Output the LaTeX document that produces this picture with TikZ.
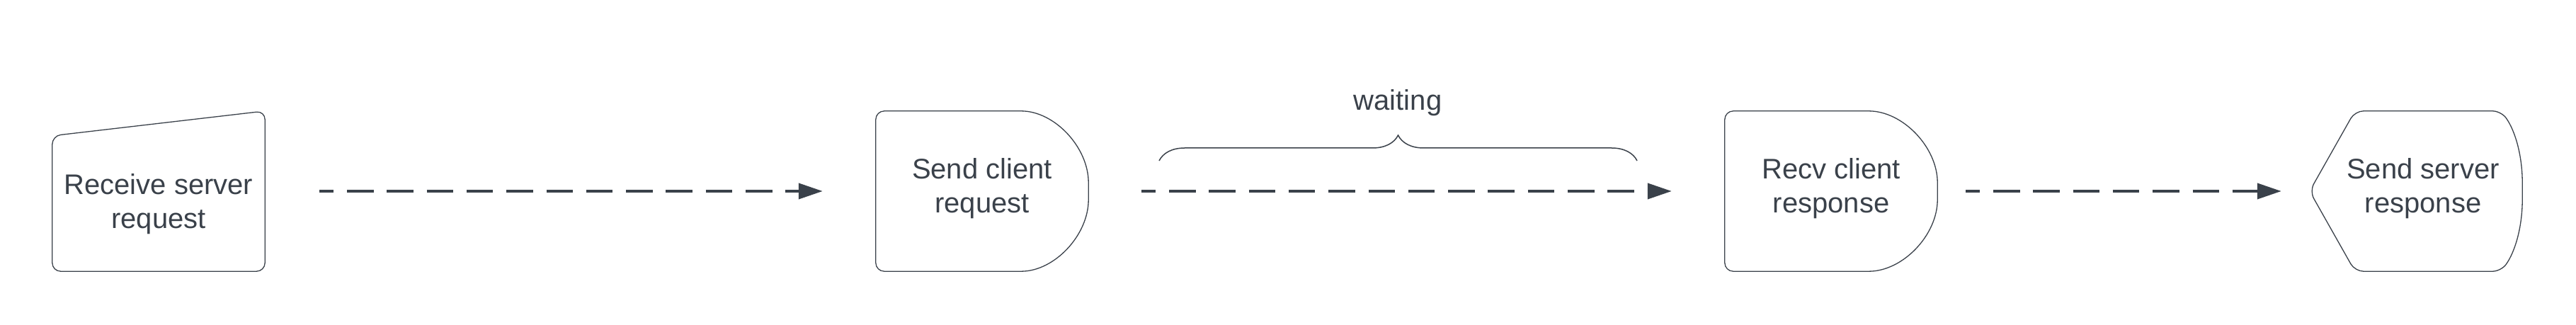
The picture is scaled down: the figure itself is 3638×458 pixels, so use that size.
\documentclass[tikz,border=0pt]{standalone}
\usepackage{fontspec}
\setmainfont{Liberation Sans}
\usetikzlibrary{arrows.meta,
                decorations.pathreplacing}
\definecolor{ink}{HTML}{3A414A}
\tikzstyle{label3}=[text=ink,align=center,inner sep=0pt,font=\fontsize{40pt}{48pt}\selectfont]

\begin{document}
\begin{tikzpicture}[x=1pt,y=1pt]

\tikzstyle{frame}=[minimum width=300pt, minimum height=226pt, inner sep=0pt]
\tikzstyle{outline}=[draw=ink, line width=1.3pt, rounded corners=12pt]
\tikzstyle{arrow}=[draw=ink, line width=4pt, dash pattern=on 37.5pt off 18.8pt, dash phase=17.5pt, -{Triangle[length=34pt,width=22pt]}]
\tikzstyle{bracket}=[draw=ink, line width=1.5pt, decorate, decoration={brace,amplitude=36pt}]

\useasboundingbox (0,0) rectangle (3638,458);

\node (recv) [frame] at (224,188)  {};
\node (sndc) [frame] at (1387,188) {};
\node (rcvc) [frame] at (2586,188) {};
\node (snds) [frame] at (3412,188) {};

\draw[outline] (recv.south west) -- ([yshift=-35pt]recv.north west) -- (recv.north east)
               -- (recv.south east) -- cycle;
\draw[outline] (sndc.north west) -- (sndc.south west)
               -- ([xshift=-107pt]sndc.south east) .. controls +(59pt,0) and +(0,-62pt) .. (sndc.east)
               .. controls +(0,62pt) and +(59pt,0) .. ([xshift=-107pt]sndc.north east) -- cycle;
\draw[outline] (rcvc.north west) -- (rcvc.south west)
               -- ([xshift=-109pt]rcvc.south east) .. controls +(60pt,0) and +(0,-62pt) .. (rcvc.east)
               .. controls +(0,62pt) and +(60pt,0) .. ([xshift=-109pt]rcvc.north east) -- cycle;
\draw[outline] ([xshift=64pt]snds.north west) -- (snds.west) -- ([xshift=64pt]snds.south west)
               -- ([xshift=-30pt]snds.south east) .. controls +(20pt,28pt) and +(0,-50pt) .. (snds.east)
               .. controls +(0,50pt) and +(20pt,-28pt) .. ([xshift=-30pt]snds.north east) -- cycle;

\node (recvtxt) [label3] at ([yshift=-18pt]recv.center) {Receive server\\request};
\node (sndctxt) [label3] at ([yshift=4pt]sndc.center)   {Send client\\request};
\node (rcvctxt) [label3] at ([yshift=4pt]rcvc.center)   {Recv client\\response};
\node (sndstxt) [label3] at ([xshift=10pt,yshift=4pt]snds.center) {Send server\\response};

\draw[arrow, shorten <=77pt, shorten >=75pt] (recv.east) -- (sndc.west);
\draw[arrow, shorten <=75pt, shorten >=75pt] (sndc.east) -- (rcvc.west);
\draw[arrow, shorten <=40pt, shorten >=40pt] (rcvc.east) -- (snds.west);

\coordinate (waitl) at (1637,231);
\coordinate (waitr) at (2312,231);
\draw[bracket] (waitl) -- (waitr);
\node (wait) [label3] at (1974,313) {waiting};
\end{tikzpicture}
\end{document}
